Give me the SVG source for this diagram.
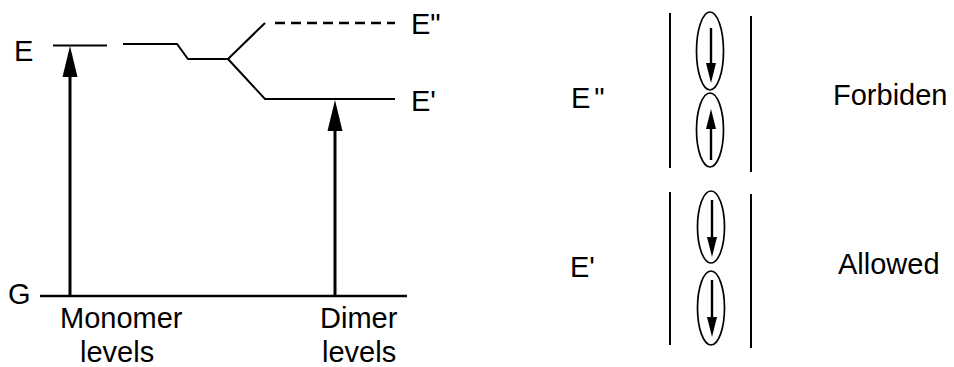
<svg xmlns="http://www.w3.org/2000/svg" width="954" height="367" viewBox="0 0 954 367">
<style>
text{font-family:"Liberation Sans",Arial,sans-serif;font-size:29px;fill:#000}
.ln{stroke:#000;stroke-width:2;fill:none}
.sh{stroke:#000;stroke-width:3;fill:none}
.thin{stroke:#000;stroke-width:1.7;fill:none}
.ah{fill:#000}
</style>
<rect width="954" height="367" fill="#fff"/>
<g id="levels">
<line class="ln" x1="53" y1="45.5" x2="107" y2="45.5"/>
<polyline class="ln" points="123,44 177,44 188,59 228,59 265,23"/>
<polyline class="ln" points="228,59 265,99 395,99"/>
<line class="ln" x1="275" y1="23" x2="395" y2="23" stroke-dasharray="10,6" style="stroke-width:2.6"/>
<line class="sh" x1="40" y1="296" x2="407" y2="296" style="stroke-width:2.5"/>
</g>
<g id="connectors">
<line class="sh" x1="70" y1="296" x2="70" y2="70"/>
<polygon class="ah" points="70,46 62.5,77 77.5,77"/>
<line class="sh" x1="335" y1="296" x2="335" y2="124"/>
<polygon class="ah" points="335,100 327.5,131 342.5,131"/>
</g>
<g id="labels-left">
<text x="14" y="61">E</text>
<text x="8" y="304">G</text>
<text x="411" y="34">E"</text>
<text x="411" y="111">E'</text>
<text x="60" y="328">Monomer</text>
<text x="80" y="362">levels</text>
<text x="320" y="328">Dimer</text>
<text x="322" y="362">levels</text>
</g>
<g id="forbidden">
<line class="ln" x1="670" y1="13" x2="670" y2="168"/>
<line class="ln" x1="751" y1="16" x2="751" y2="172"/>
<ellipse class="thin" cx="710" cy="51" rx="13.5" ry="39"/>
<ellipse class="thin" cx="710" cy="130" rx="13.5" ry="37"/>
<line class="sh" x1="711" y1="28" x2="711" y2="68" style="stroke-width:2.4"/>
<polygon class="ah" points="711,83 706,63 716,63"/>
<line class="sh" x1="711" y1="160" x2="711" y2="124" style="stroke-width:2.4"/>
<polygon class="ah" points="711,109 706,129 716,129"/>
<text x="571" y="108">E<tspan dx="4">"</tspan></text>
<text x="833" y="105">Forbiden</text>
</g>
<g id="allowed">
<line class="ln" x1="670" y1="192" x2="670" y2="345"/>
<line class="ln" x1="751" y1="194" x2="751" y2="348"/>
<ellipse class="thin" cx="711" cy="227" rx="13.5" ry="36"/>
<ellipse class="thin" cx="711" cy="308" rx="13.5" ry="37"/>
<line class="sh" x1="712" y1="200" x2="712" y2="240" style="stroke-width:2.4"/>
<polygon class="ah" points="712,257 707,237 717,237"/>
<line class="sh" x1="712" y1="280" x2="712" y2="320" style="stroke-width:2.4"/>
<polygon class="ah" points="712,337 707,317 717,317"/>
<text x="570" y="277">E'</text>
<text x="838" y="274">Allowed</text>
</g>
</svg>
